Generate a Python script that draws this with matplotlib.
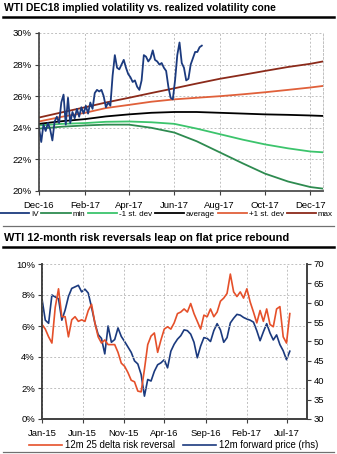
import matplotlib
matplotlib.use("Agg")
import matplotlib.pyplot as plt
import matplotlib.dates as mdates
from matplotlib.lines import Line2D
import numpy as np
import pandas as pd

plt.rcParams["font.family"] = ["Liberation Sans", "DejaVu Sans"]

# ---- top chart: implied vol vs realized vol cone ----
iv_dates = pd.date_range("2016-12-01", periods=74, freq="3D")
iv_values = [
    24.0, 23.1, 24.2, 23.8, 24.3, 23.9, 23.2, 24.4, 24.7, 24.3,
    25.6, 26.1, 24.2, 25.9, 24.3, 25.0, 24.6, 25.2, 24.7, 25.3,
    24.9, 25.4, 24.9, 25.6, 25.2, 26.2, 26.4, 26.3, 26.4, 26.0,
    25.3, 25.6, 25.4, 27.3, 28.6, 27.8, 27.7, 28.0, 28.3, 27.8,
    27.4, 27.2, 26.9, 27.0, 26.6, 26.4, 27.0, 28.6, 28.5, 28.2,
    28.4, 28.9, 28.3, 28.2, 28.0, 28.1, 27.8, 27.6, 26.6, 25.9,
    25.8, 27.0, 28.6, 29.4, 28.1, 27.8, 27.0, 27.1, 28.0, 28.4,
    28.8, 28.8, 29.1, 29.2,
]

cone_dates = pd.to_datetime([
    "2016-12-01", "2017-01-01", "2017-02-01", "2017-03-01", "2017-04-01",
    "2017-05-01", "2017-06-01", "2017-07-01", "2017-08-01", "2017-09-01",
    "2017-10-01", "2017-11-01", "2017-12-01", "2017-12-18",
])
cone_max = [24.65, 24.98, 25.3, 25.6, 25.9, 26.2, 26.5, 26.8, 27.1, 27.35, 27.6, 27.85, 28.05, 28.2]
cone_up = [24.4, 24.7, 24.95, 25.25, 25.45, 25.65, 25.8, 25.9, 26.0, 26.12, 26.25, 26.4, 26.55, 26.65]
cone_avg = [24.25, 24.42, 24.55, 24.72, 24.85, 24.95, 25.0, 25.0, 24.95, 24.9, 24.85, 24.82, 24.78, 24.75]
cone_dn = [24.15, 24.25, 24.3, 24.38, 24.4, 24.35, 24.25, 23.95, 23.6, 23.25, 22.95, 22.7, 22.5, 22.45]
cone_min = [23.95, 24.07, 24.15, 24.2, 24.2, 24.0, 23.7, 23.15, 22.45, 21.75, 21.1, 20.6, 20.25, 20.15]

top_ticks = pd.to_datetime(["2016-12-01", "2017-02-01", "2017-04-01", "2017-06-01",
                            "2017-08-01", "2017-10-01", "2017-12-01"])

# ---- bottom chart: risk reversal vs forward price ----
rr_dates = pd.date_range("2015-01-01", "2017-07-12", periods=76)
risk_reversal = [
    6.1, 5.8, 5.3, 4.9, 7.2, 8.4, 6.6, 6.6, 5.3, 6.4,
    6.6, 6.3, 6.4, 6.3, 7.0, 7.4, 6.2, 5.3, 4.9, 5.1,
    4.8, 4.8, 4.8, 4.3, 3.6, 3.4, 3.0, 2.5, 2.4, 1.8,
    1.75, 3.2, 4.8, 5.35, 5.55, 4.3, 5.1, 5.8, 5.95, 5.8,
    6.2, 6.8, 6.9, 7.1, 6.9, 7.45, 6.8, 6.3, 5.8, 6.7,
    6.6, 7.1, 6.6, 6.9, 7.6, 7.8, 8.1, 9.35, 8.2, 7.9,
    8.2, 7.8, 8.4, 7.55, 6.9, 6.2, 7.0, 6.3, 7.1, 6.1,
    5.95, 7.1, 7.25, 5.3, 4.9, 6.8,
]
forward_price = [
    61.0, 55.5, 54.7, 62.0, 61.5, 61.0, 55.5, 58.1, 61.6, 63.7,
    64.1, 64.5, 62.8, 63.5, 62.5, 58.8, 54.8, 51.8, 50.8, 46.8,
    54.0, 49.8, 50.5, 53.5, 51.3, 50.0, 48.6, 47.2, 45.0, 44.2,
    41.5, 35.9, 40.2, 39.8, 42.3, 44.0, 44.5, 45.3, 43.2, 47.5,
    49.3, 50.6, 51.5, 53.0, 52.8, 51.9, 49.8, 45.8, 48.8, 51.0,
    50.8, 50.0, 52.8, 54.6, 53.0, 49.8, 51.0, 54.8, 56.0, 57.0,
    56.8, 56.2, 55.8, 55.5, 55.0, 52.8, 50.2, 52.5, 54.6, 52.2,
    50.4, 51.7, 49.2, 47.6, 45.3, 47.5,
]
bottom_ticks = pd.to_datetime(["2015-01-01", "2015-06-01", "2015-11-01", "2016-04-01",
                               "2016-09-01", "2017-02-01", "2017-07-01"])

navy = "#1b3a7e"
dark_green = "#2e8b50"
light_green = "#3cc46c"
orange = "#e0603a"
dark_red = "#8b2a1a"
rr_red = "#e5502a"
grid_kw = dict(color="#c0c0c0", linestyle=(0, (2, 2)), linewidth=0.7)
tick_fs = 6.8

fig = plt.figure(figsize=(3.37, 4.54), dpi=100)

# header lines and titles
fig.text(0.012, 1 - 8 / 454, "WTI DEC18 implied volatility vs. realized volatility cone",
         fontsize=7.45, fontweight="bold", va="center", ha="left")
fig.add_artist(Line2D([0.009, 0.991], [1 - 17 / 454] * 2, color="black", linewidth=1.8))
fig.add_artist(Line2D([0.009, 0.991], [1 - 226 / 454] * 2, color="#707070", linewidth=0.9))
fig.text(0.012, 1 - 238 / 454, "WTI 12-month risk reversals leap on flat price rebound",
         fontsize=7.9, fontweight="bold", va="center", ha="left")
fig.add_artist(Line2D([0.009, 0.991], [1 - 247 / 454] * 2, color="black", linewidth=1.8))
fig.add_artist(Line2D([0.009, 0.991], [1 - 452 / 454] * 2, color="#707070", linewidth=0.9))

# top panel
ax1 = fig.add_axes([39 / 337, 1 - 191 / 454, (323 - 39) / 337, (191 - 33) / 454])
ax1.plot(cone_dates, cone_min, color=dark_green, linewidth=1.3, label="min")
ax1.plot(cone_dates, cone_dn, color=light_green, linewidth=1.3, label="-1 st. dev")
ax1.plot(cone_dates, cone_avg, color="black", linewidth=1.3, label="average")
ax1.plot(cone_dates, cone_up, color=orange, linewidth=1.3, label="+1 st. dev")
ax1.plot(cone_dates, cone_max, color=dark_red, linewidth=1.3, label="max")
ax1.plot(iv_dates, iv_values, color=navy, linewidth=1.3, label="IV")
ax1.set_xlim(pd.Timestamp("2016-12-01"), pd.Timestamp("2017-12-18"))
ax1.set_ylim(20, 30)
ax1.set_yticks([20, 22, 24, 26, 28, 30])
ax1.set_yticklabels([f"{v}%" for v in [20, 22, 24, 26, 28, 30]])
ax1.set_xticks(top_ticks)
ax1.xaxis.set_major_formatter(mdates.DateFormatter("%b-%y"))
ax1.grid(True, **grid_kw)
ax1.set_axisbelow(True)
ax1.spines["top"].set_visible(False)
ax1.spines["right"].set(color="#c0c0c0", linestyle=(0, (2, 2)), linewidth=0.7)
for s in ["left", "bottom"]:
    ax1.spines[s].set(color="#404040", linewidth=1.2)
ax1.tick_params(labelsize=tick_fs, length=3, width=0.8, color="#404040", pad=2)
ax1.tick_params(axis="x", pad=4)

h, l = ax1.get_legend_handles_labels()
order = [5, 0, 1, 2, 3, 4]
fig.legend([h[i] for i in order], [l[i] for i in order], loc="center",
           bbox_to_anchor=(0.493, 1 - 214 / 454), ncol=6, frameon=False,
           fontsize=5.8, handlelength=3.65, handletextpad=0.2, columnspacing=0.35,
           borderaxespad=0, borderpad=0)

# bottom panel
ax2 = fig.add_axes([42 / 337, 1 - 419 / 454, (307 - 42) / 337, (419 - 264) / 454])
ax3 = ax2.twinx()
ax2.plot(rr_dates, risk_reversal, color=rr_red, linewidth=1.2, label="12m 25 delta risk reversal")
ax3.plot(rr_dates, forward_price, color=navy, linewidth=1.2, label="12m forward price (rhs)")
ax2.set_zorder(ax3.get_zorder() + 1)
ax2.patch.set_visible(False)
ax2.set_xlim(pd.Timestamp("2015-01-01"), pd.Timestamp("2017-09-14"))
ax2.set_ylim(0, 10)
ax3.set_ylim(30, 70)
ax2.set_yticks(range(0, 11, 2))
ax2.set_yticklabels([f"{v}%" for v in range(0, 11, 2)])
ax3.set_yticks(range(30, 71, 5))
ax2.set_xticks(bottom_ticks)
ax2.xaxis.set_major_formatter(mdates.DateFormatter("%b-%y"))
ax2.grid(True, **grid_kw)
for a in (ax2, ax3):
    a.spines["top"].set_visible(False)
    for s in ["left", "bottom", "right"]:
        a.spines[s].set(color="#404040", linewidth=1.2)
    a.tick_params(labelsize=tick_fs, length=3, width=0.8, color="#404040", pad=2)
ax2.tick_params(axis="x", pad=4)

h2, l2 = ax2.get_legend_handles_labels()
h3, l3 = ax3.get_legend_handles_labels()
fig.legend(h2 + h3, l2 + l3, loc="center", bbox_to_anchor=(0.515, 1 - 445 / 454), ncol=2,
           frameon=False, fontsize=6.9, handlelength=3.4, handletextpad=0.3,
           columnspacing=0.9, borderaxespad=0, borderpad=0)

fig.savefig("out.png", dpi=100)
